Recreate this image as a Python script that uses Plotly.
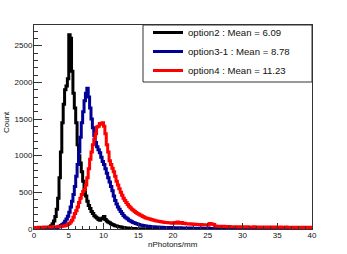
import numpy as np
import plotly.graph_objects as go

# ---- data ----
X_MIN, X_MAX, BIN_WIDTH = 0.0, 40.0, 0.2

series_names = ["option2 : Mean = 6.09", "option3-1 : Mean = 8.78", "option4 : Mean = 11.23"]
series_colors = ["#000000", "#000099", "#ff0000"]

option2 = [
    0, 0, 1, 0, 1, 2, 3, 5, 8, 12,
    18, 28, 45, 70, 110, 170, 270, 420, 700, 1050,
    1450, 1700, 1900, 1950, 2050, 2650, 2600, 2150, 1850, 1650,
    1450, 1150, 1000, 900, 780, 650, 540, 450, 380, 320,
    280, 240, 210, 180, 165, 150, 130, 120, 140, 150,
    170, 130, 110, 95, 85, 70, 60, 55, 45, 40,
    35, 30, 28, 24, 20, 18, 15, 12, 10, 9,
    8, 7, 6, 5, 5, 4, 4, 3, 3, 2,
    2, 2, 2, 1, 1, 1, 1, 1, 1, 0,
    1, 0, 0, 1, 0, 0, 0, 0, 0, 0,
    0, 0, 0, 0, 0, 0, 0, 0, 0, 0,
    0, 0, 0, 0, 0, 0, 0, 0, 0, 0,
    0, 0, 0, 0, 0, 0, 0, 0, 0, 0,
    0, 0, 0, 0, 0, 0, 0, 0, 0, 0,
    0, 0, 0, 0, 0, 0, 0, 0, 0, 0,
    0, 0, 0, 0, 0, 0, 0, 0, 0, 0,
    0, 0, 0, 0, 0, 0, 0, 0, 0, 0,
    0, 0, 0, 0, 0, 0, 0, 0, 0, 0,
    0, 0, 0, 0, 0, 0, 0, 0, 0, 0,
    0, 0, 0, 0, 0, 0, 0, 0, 0, 0,
]

option3_1 = [
    0, 0, 0, 1, 0, 1, 1, 2, 2, 3,
    4, 5, 7, 9, 12, 16, 20, 28, 36, 48,
    62, 80, 105, 135, 175, 230, 300, 380, 470, 580,
    720, 880, 1050, 1250, 1450, 1600, 1750, 1850, 1920, 1800,
    1650, 1500, 1380, 1270, 1180, 1120, 1080, 1040, 980, 920,
    880, 820, 760, 700, 640, 580, 520, 450, 390, 340,
    300, 270, 240, 210, 185, 165, 150, 135, 120, 110,
    100, 90, 82, 75, 68, 62, 56, 52, 48, 44,
    40, 38, 36, 34, 32, 30, 29, 28, 27, 26,
    25, 24, 23, 22, 21, 21, 20, 20, 19, 19,
    18, 18, 17, 17, 16, 16, 15, 15, 14, 14,
    13, 13, 12, 12, 11, 11, 10, 10, 10, 9,
    9, 8, 8, 8, 7, 7, 7, 6, 6, 6,
    5, 5, 5, 4, 4, 4, 4, 3, 3, 3,
    3, 3, 2, 2, 2, 2, 2, 2, 1, 1,
    1, 1, 1, 1, 1, 1, 1, 1, 1, 0,
    1, 0, 1, 0, 0, 1, 0, 0, 1, 0,
    0, 0, 1, 0, 0, 0, 0, 1, 0, 0,
    0, 0, 0, 0, 1, 0, 0, 0, 0, 0,
    0, 0, 0, 0, 0, 0, 0, 0, 0, 0,
]

option4 = [
    20, 22, 22, 24, 24, 25, 25, 26, 26, 27,
    27, 28, 28, 29, 30, 30, 31, 32, 33, 34,
    36, 40, 45, 52, 60, 75, 95, 120, 160, 210,
    250, 300, 360, 420, 470, 510, 540, 600, 700, 820,
    950, 1050, 1150, 1220, 1300, 1390, 1400, 1440, 1430, 1450,
    1400, 1300, 1150, 1050, 930, 880, 830, 780, 720, 650,
    600, 550, 500, 460, 420, 390, 360, 335, 310, 290,
    270, 255, 240, 225, 210, 200, 190, 180, 170, 160,
    150, 145, 140, 135, 128, 122, 118, 114, 110, 106,
    102, 98, 95, 92, 90, 88, 86, 84, 82, 80,
    85, 90, 80, 95, 85, 80, 90, 75, 80, 70,
    72, 68, 70, 65, 68, 62, 65, 60, 62, 58,
    60, 56, 58, 55, 54, 52, 75, 70, 65, 60,
    40, 38, 36, 38, 35, 34, 36, 33, 34, 32,
    33, 31, 30, 32, 30, 29, 31, 28, 30, 29,
    28, 30, 27, 29, 28, 26, 28, 27, 29, 26,
    27, 25, 28, 26, 27, 25, 26, 24, 27, 25,
    26, 24, 25, 27, 24, 25, 23, 26, 24, 25,
    24, 26, 23, 25, 24, 22, 25, 23, 24, 22,
    23, 24, 22, 25, 23, 21, 24, 22, 23, 22,
]

x_title = "nPhotons/mm"
y_title = "Count"
y_max = 2782

# ---- figure ----
W, H = 347, 254
L, R, T, B = 34, 35, 25, 25
PW, PH = W - L - R, H - T - B
FONT = "Liberation Sans, Arial, Helvetica, sans-serif"

n_bins = len(option2)
edges = X_MIN + BIN_WIDTH * np.arange(n_bins + 1)

fig = go.Figure()
for name, color, vals in zip(series_names, series_colors, [option2, option3_1, option4]):
    y = list(vals) + [vals[-1]]
    fig.add_trace(go.Scatter(
        x=edges, y=y, mode="lines", name=name,
        line=dict(color=color, width=3, shape="hv"),
        hoverinfo="skip",
    ))

axis_common = dict(
    showgrid=False, zeroline=False,
    showline=True, linecolor="#333333", linewidth=1, mirror=True,
    ticks="inside", tickcolor="#333333", tickwidth=1,
    tickfont=dict(family=FONT, size=8, color="#111111"),
)

fig.update_xaxes(
    range=[X_MIN, X_MAX], dtick=5, tick0=0, ticklen=6,
    ticklabelstandoff=-2,
    minor=dict(dtick=1, ticks="inside", ticklen=3, tickcolor="#333333"),
    **axis_common,
)
fig.update_yaxes(
    range=[0, y_max], dtick=500, tick0=0, ticklen=8,
    ticklabelstandoff=-1,
    minor=dict(dtick=100, ticks="inside", ticklen=4, tickcolor="#333333"),
    **axis_common,
)

# legend box
fig.add_shape(type="rect", xref="paper", yref="paper",
              x0=(143 - L) / PW, x1=1.0, y0=(H - B - 82) / PH, y1=1.0,
              line=dict(color="#333333", width=1), fillcolor="white", layer="above")

fig.update_layout(
    width=W, height=H,
    margin=dict(l=L, r=R, t=T, b=B),
    paper_bgcolor="white", plot_bgcolor="white",
    font=dict(family=FONT, size=9, color="#111111"),
    showlegend=True,
    legend=dict(
        x=(148 - L) / PW, y=1.0 + 7 / PH, xanchor="left", yanchor="top",
        bgcolor="rgba(0,0,0,0)", borderwidth=0,
        font=dict(family=FONT, size=9.6, color="#111111"),
        tracegroupgap=0,
    ),
    annotations=[
        dict(text=x_title, xref="paper", yref="paper", x=0.5, y=-(244 - (H - B)) / PH,
             xanchor="center", yanchor="middle", showarrow=False,
             font=dict(family=FONT, size=8, color="#111111")),
        dict(text=y_title, xref="paper", yref="paper", x=-(L - 6) / PW,
             y=(H - B - 122) / PH, xanchor="center", yanchor="middle",
             textangle=-90, showarrow=False,
             font=dict(family=FONT, size=8, color="#111111")),
    ],
)

fig.write_html("out.html", config={"displayModeBar": False},
               post_script="document.body.style.margin='0';document.body.style.padding='0';")
